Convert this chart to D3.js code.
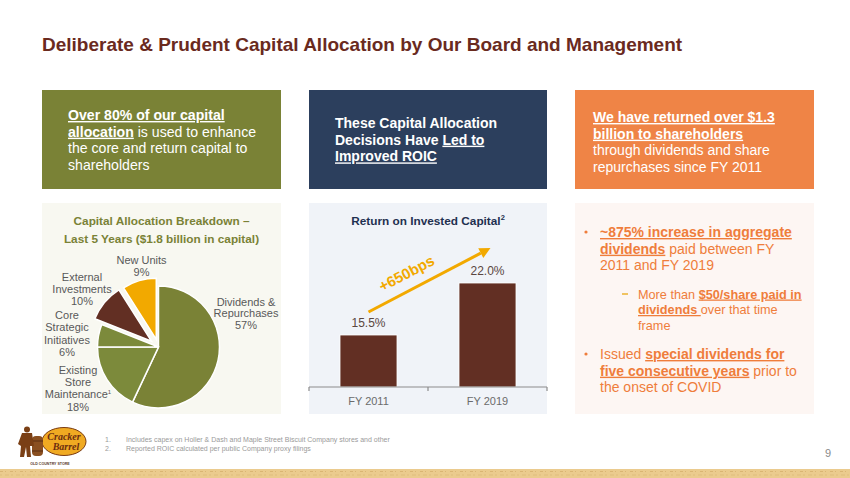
<!DOCTYPE html>
<html><head><meta charset="utf-8">
<script src="https://cdn.jsdelivr.net/npm/d3@7/dist/d3.min.js"></script>
<style>
html,body{margin:0;padding:0;background:#fff;}
svg{display:block;font-family:"Liberation Sans",Arial,sans-serif;}
</style></head>
<body>
<svg id="c" width="850" height="478"></svg>
<script>
// ---------- DATA ----------
const titleText = "Deliberate & Prudent Capital Allocation by Our Board and Management";
const pieCategories = ["Dividends & Repurchases", "Existing Store Maintenance", "Core Strategic Initiatives", "External Investments", "New Units"];
const pieValues = [57, 18, 6, 10, 9];
const pieLabelLines = [
  ["Dividends &", "Repurchases", "57%"],
  ["Existing", "Store", "Maintenance", "18%"],
  ["Core", "Strategic", "Initiatives", "6%"],
  ["External", "Investments", "10%"],
  ["New Units", "9%"]
];
const barCategories = ["FY 2011", "FY 2019"];
const roicValues = [15.5, 22.0];
const roicLabels = ["15.5%", "22.0%"];
const roicChange = "+650bps";
const footnotes = [
  ["1.", "Includes capex on Holler & Dash and Maple Street Biscuit Company stores and other"],
  ["2.", "Reported ROIC calculated per public Company proxy filings"]
];
const pageNumber = "9";

// ---------- SETUP ----------
const svg = d3.select("#c");
const C = {
  title: "#6a2a1e", olive: "#7a8236", olive2: "#7c8a3b", navy: "#2c3f5d", orange: "#ef8446",
  brown: "#622f23", gold: "#f2a900", grey: "#595959", txtOrange: "#ef7d3b"
};

// title
svg.append("text").attr("x", 42).attr("y", 51)
  .attr("font-size", 19).attr("font-weight", "bold").attr("fill", C.title)
  .text(titleText);

// helper for multi-style lines
function lines(g, x, y0, lh, rows, opts) {
  const t = g.append("text").attr("font-size", opts.size).attr("fill", opts.fill)
    .attr("text-anchor", opts.anchor || "start");
  rows.forEach((row, i) => {
    const segs = Array.isArray(row) ? row : [[row, ""]];
    segs.forEach((s, j) => {
      const ts = t.append("tspan").text(s[0]);
      if (j === 0) ts.attr("x", x).attr("y", y0 + i * lh);
      if (s[1].includes("b")) ts.attr("font-weight", "bold");
      if (s[1].includes("u")) ts.style("text-decoration", "underline");
    });
  });
  return t;
}

// ---------- TOP BOXES ----------
svg.append("rect").attr("x", 42).attr("y", 90).attr("width", 239).attr("height", 99).attr("fill", C.olive);
svg.append("rect").attr("x", 309).attr("y", 90).attr("width", 238).attr("height", 99).attr("fill", C.navy);
svg.append("rect").attr("x", 575).attr("y", 90).attr("width", 239).attr("height", 99).attr("fill", C.orange);

lines(svg, 68, 120, 16.7, [
  [["Over 80%  of our capital", "bu"]],
  [["allocation", "bu"], [" is used to enhance", ""]],
  "the core and return capital to",
  "shareholders"
], {size: 14.1, fill: "#fff"});

lines(svg, 335, 128, 16.7, [
  [["These Capital Allocation", "b"]],
  [["Decisions Have ", "b"], ["Led to", "bu"]],
  [["Improved ROIC", "bu"]]
], {size: 14, fill: "#fff"});

lines(svg, 593, 122, 16.7, [
  [["We have returned over $1.3", "bu"]],
  [["billion to shareholders", "bu"]],
  "through dividends and share",
  "repurchases since FY 2011"
], {size: 14, fill: "#fff"});

// ---------- LOWER PANELS ----------
svg.append("rect").attr("x", 42).attr("y", 203).attr("width", 239).attr("height", 211).attr("fill", "#f8f8f1");
svg.append("rect").attr("x", 309).attr("y", 203).attr("width", 238).attr("height", 211).attr("fill", "#f0f3f8");
svg.append("rect").attr("x", 575).attr("y", 203).attr("width", 239).attr("height", 211).attr("fill", "#fdf6f3");

// ---------- PIE ----------
lines(svg, 161.5, 225, 18, ["Capital Allocation Breakdown –", "Last 5 Years ($1.8 billion in capital)"],
  {size: 11.8, fill: C.olive, anchor: "middle"}).attr("font-weight", "bold");

const pcx = 158.5, pcy = 347, pr = 61;
const pie = d3.pie().sort(null).value(d => d)(pieValues);
const arc = d3.arc().innerRadius(0).outerRadius(pr);
const pieColors = [C.olive, C.olive2, C.olive2, C.brown, C.gold];
const explode = [0, 0, 0, 9, 8];
const pg = svg.append("g").attr("transform", `translate(${pcx},${pcy})`);
pg.selectAll("path").data(pie).join("path")
  .attr("d", arc)
  .attr("transform", (d, i) => {
    const a = (d.startAngle + d.endAngle) / 2;
    return `translate(${Math.sin(a) * explode[i]},${-Math.cos(a) * explode[i]})`;
  })
  .attr("fill", (d, i) => pieColors[i])
  .attr("stroke", "#fff").attr("stroke-width", 1.5);

const pieLabelPos = [[246, 305.5, 11.5], [78, 374, 12.2], [67, 319, 12.3], [82, 281, 12], [141.5, 264, 11.7]];
pieLabelLines.forEach((ls, i) => {
  const [x, y, lh] = pieLabelPos[i];
  const t = lines(svg, x, y, lh, ls, {size: 11, fill: C.grey, anchor: "middle"});
  if (i === 1) t.selectAll("tspan").filter((d, k) => k === 2)
    .append("tspan").attr("font-size", 6).attr("dy", -4).text("1");
});

// ---------- BAR CHART ----------
const bt = svg.append("text").attr("x", 428).attr("y", 225).attr("text-anchor", "middle")
  .attr("font-size", 11.8).attr("font-weight", "bold").attr("fill", "#1f3050");
bt.append("tspan").text("Return on Invested Capital");
bt.append("tspan").attr("font-size", 7.5).attr("dy", -5).text("2");

const x = d3.scaleBand().domain(barCategories).range([309, 547]).padding(0);
const y = d3.scaleLinear().domain([9, 25]).range([387, 259]);
const bw = 57;
const bg = svg.append("g");
bg.selectAll("rect").data(roicValues).join("rect")
  .attr("x", (d, i) => x(barCategories[i]) + (x.bandwidth() - bw) / 2)
  .attr("y", d => y(d))
  .attr("width", bw)
  .attr("height", d => y.range()[0] - y(d))
  .attr("fill", C.brown).attr("stroke", "#fff").attr("stroke-width", 0.8);
bg.selectAll("text.v").data(roicValues).join("text").attr("class", "v")
  .attr("x", (d, i) => x(barCategories[i]) + x.bandwidth() / 2)
  .attr("y", d => y(d) - 8)
  .attr("text-anchor", "middle").attr("font-size", 12).attr("fill", "#5a4640")
  .text((d, i) => roicLabels[i]);

// axis
const ax = svg.append("g").attr("transform", "translate(0,387)")
  .call(d3.axisBottom(x).tickSize(0).tickPadding(10));
ax.select(".domain").attr("stroke", "#8c8c8c").attr("stroke-width", 1.2).attr("d", "M309,0H547");
ax.selectAll("text").attr("font-size", 11).attr("fill", "#6b6b6b").attr("font-family", "Liberation Sans, Arial, sans-serif");
const bounds = [x.range()[0], ...barCategories.map(c => x(c) + x.bandwidth())];
ax.selectAll("line.b").data(bounds).join("line").attr("class", "b")
  .attr("x1", d => d).attr("x2", d => d).attr("y1", 0).attr("y2", 4)
  .attr("stroke", "#8c8c8c").attr("stroke-width", 1.2);

// arrow annotation
const x0 = x(barCategories[0]) + x.bandwidth() / 2, y0a = y(roicValues[0]) - 23;
const x1 = x(barCategories[1]) + x.bandwidth() / 2 + 3, y1a = y(roicValues[1]) - 35;
const ang = Math.atan2(y1a - y0a, x1 - x0);
const hl = 11, hw = 5.5;
const bx = x1 - hl * Math.cos(ang), by = y1a - hl * Math.sin(ang);
svg.append("line").attr("x1", x0).attr("y1", y0a).attr("x2", bx).attr("y2", by)
  .attr("stroke", C.gold).attr("stroke-width", 3);
svg.append("path").attr("fill", C.gold)
  .attr("d", `M${x1},${y1a}L${bx - hw * Math.sin(ang)},${by + hw * Math.cos(ang)}L${bx + hw * Math.sin(ang)},${by - hw * Math.cos(ang)}Z`);
const deg = ang * 180 / Math.PI;
svg.append("text").attr("transform", `translate(409,278) rotate(${deg})`)
  .attr("text-anchor", "middle").attr("font-size", 15).attr("font-weight", "bold").attr("fill", C.gold)
  .text(roicChange);

// ---------- RIGHT BULLETS ----------
const rg = svg.append("g");
lines(rg, 600, 237, 16.7, [
  [["~875% increase in aggregate", "bu"]],
  [["dividends", "bu"], [" paid between FY", ""]],
  "2011 and FY 2019"
], {size: 14, fill: C.txtOrange});
lines(rg, 638, 298.5, 15.5, [
  [["More than ", ""], ["$50/share paid in", "bu"]],
  [["dividends ", "bu"], ["over that time", ""]],
  "frame"
], {size: 12.7, fill: C.txtOrange});
lines(rg, 600, 359, 16.7, [
  [["Issued ", ""], ["special dividends for", "bu"]],
  [["five consecutive years", "bu"], [" prior to", ""]],
  "the onset of COVID"
], {size: 14, fill: C.txtOrange});
rg.selectAll("circle").data([232, 354]).join("circle")
  .attr("cx", 586).attr("cy", d => d).attr("r", 1.6).attr("fill", C.txtOrange);
rg.append("line").attr("x1", 622).attr("x2", 628).attr("y1", 294).attr("y2", 294)
  .attr("stroke", "#e8a200").attr("stroke-width", 1.2);

// ---------- FOOTER ----------
const fg = svg.append("g");
footnotes.forEach((f, i) => {
  fg.append("text").attr("x", 105).attr("y", 441.5 + i * 9).attr("font-size", 7).attr("fill", "#9a9a9a").text(f[0]);
  fg.append("text").attr("x", 126).attr("y", 441.5 + i * 9).attr("font-size", 7).attr("fill", "#9a9a9a").text(f[1]);
});
svg.append("text").attr("x", 828).attr("y", 457).attr("text-anchor", "middle")
  .attr("font-size", 11).attr("fill", "#8a8a8a").text(pageNumber);

// bottom strip
svg.append("rect").attr("x", 0).attr("y", 469).attr("width", 850).attr("height", 9).attr("fill", "#ebcb8e");
svg.append("line").attr("x1", 0).attr("x2", 850).attr("y1", 471.5).attr("y2", 471.5)
  .attr("stroke", "#d9b574").attr("stroke-width", 1).attr("stroke-dasharray", "3 2 1 4");
svg.append("line").attr("x1", 0).attr("x2", 850).attr("y1", 475).attr("y2", 475)
  .attr("stroke", "#dfbd7e").attr("stroke-width", 1).attr("stroke-dasharray", "2 3 4 2");

// logo
const lg = svg.append("g");
lg.append("ellipse").attr("cx", 64).attr("cy", 441.5).attr("rx", 22).attr("ry", 14)
  .attr("fill", "#f0aa22").attr("stroke", "#7a3b12").attr("stroke-width", 1);
lg.append("text").attr("x", 64).attr("y", 440).attr("text-anchor", "middle")
  .attr("font-size", 10).attr("font-weight", "bold").attr("font-style", "italic")
  .attr("font-family", "Liberation Serif, serif").attr("fill", "#6b2d10").text("Cracker");
lg.append("text").attr("x", 66).attr("y", 450).attr("text-anchor", "middle")
  .attr("font-size", 10).attr("font-weight", "bold").attr("font-style", "italic")
  .attr("font-family", "Liberation Serif, serif").attr("fill", "#6b2d10").text("Barrel");
// barrel
lg.append("rect").attr("x", 32).attr("y", 436).attr("width", 11).attr("height", 20).attr("rx", 4).attr("fill", "#8a4f20");
lg.append("line").attr("x1", 32).attr("x2", 43).attr("y1", 441).attr("y2", 441).attr("stroke", "#5a2e10");
lg.append("line").attr("x1", 32).attr("x2", 43).attr("y1", 451).attr("y2", 451).attr("stroke", "#5a2e10");
// man
lg.append("circle").attr("cx", 27).attr("cy", 429.5).attr("r", 3).attr("fill", "#7a3f15");
lg.append("path").attr("fill", "#7a3f15")
  .attr("d", "M22,433 L32,433 L34,446 L30,446 L31,457 L27,457 L26,447 L24,457 L20,457 L21,446 L18,444 Z");
lg.append("text").attr("x", 50).attr("y", 464.5).attr("text-anchor", "middle")
  .attr("font-size", 3.6).attr("font-weight", "bold").attr("fill", "#5a3a2a").text("OLD COUNTRY STORE");
</script>
</body></html>
